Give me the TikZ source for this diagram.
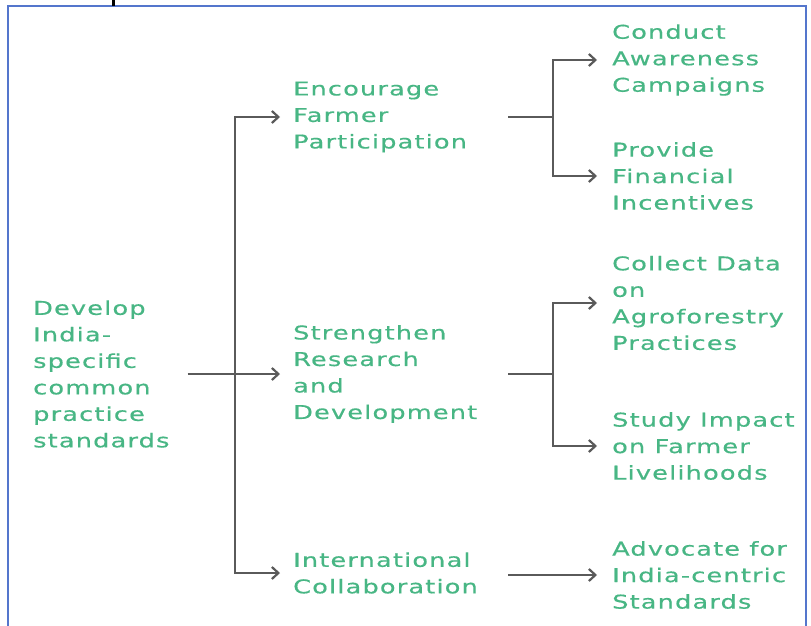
\documentclass[tikz,border=0pt]{standalone}
\usepackage{fontspec}
\setmainfont{DejaVu Sans}[FakeStretch=1.35,LetterSpace=6,FakeBold=0.5]
\usetikzlibrary{arrows.meta}
\definecolor{leafgreen}{RGB}{72,182,132}
\definecolor{linkgray}{RGB}{90,90,90}
\definecolor{frameblue}{RGB}{84,118,204}
\begin{document}
\begin{tikzpicture}[x=1pt,y=-1pt,
  label/.style={anchor=west,inner sep=0pt,align=left,text=leafgreen,
    font=\fontsize{19}{26.5}\selectfont},
  link/.style={draw=linkgray,line width=2.2pt},
  linkarrow/.style={link,-{Straight Barb[length=6.5pt,width=12pt,line width=2.2pt]}}]
\useasboundingbox (0,0) rectangle (811,626);
% frame
\draw[frameblue,line width=2pt] (8,626) -- (8,6) -- (806,6) -- (806,626);
\draw[black,line width=3pt] (113,0) -- (113,6);

% nodes
\node[label] (root) at (33,374) {Develop\\India-\\specific\\common\\practice\\standards};
\node[label] (enc)  at (293,117) {Encourage\\Farmer\\Participation};
\node[label] (res)  at (293,374) {Strengthen\\Research\\and\\Development};
\node[label] (intl) at (293,573) {International\\Collaboration};
\node[label] (camp) at (612,60)  {Conduct\\Awareness\\Campaigns};
\node[label] (fin)  at (612,176) {Provide\\Financial\\Incentives};
\node[label] (data) at (612,303) {Collect Data\\on\\Agroforestry\\Practices};
\node[label] (imp)  at (612,446) {Study Impact\\on Farmer\\Livelihoods};
\node[label] (adv)  at (612,575) {Advocate for\\India-centric\\Standards};

% trunk
\coordinate (trunk) at (235,374);
\draw[linkarrow] ([xshift=18pt]root.east) -- ([xshift=-13pt]res.west);
\draw[linkarrow] (trunk) |- ([xshift=-13pt]enc.west);
\draw[linkarrow] (trunk) |- ([xshift=-13pt]intl.west);

% first branch
\coordinate (s1) at (508,117);
\coordinate (k1) at (553,117);
\draw[link] (s1) -- (k1);
\draw[linkarrow] (k1) |- ([xshift=-15pt]camp.west);
\draw[linkarrow] (k1) |- ([xshift=-15pt]fin.west);

% second branch
\coordinate (s2) at (508,374);
\coordinate (k2) at (553,374);
\draw[link] (s2) -- (k2);
\draw[linkarrow] (k2) |- ([xshift=-15pt]data.west);
\draw[linkarrow] (k2) |- ([xshift=-15pt]imp.west);

% third branch
\coordinate (s3) at (508,575);
\draw[linkarrow] (s3) -- ([xshift=-15pt]adv.west);
\end{tikzpicture}
\end{document}
